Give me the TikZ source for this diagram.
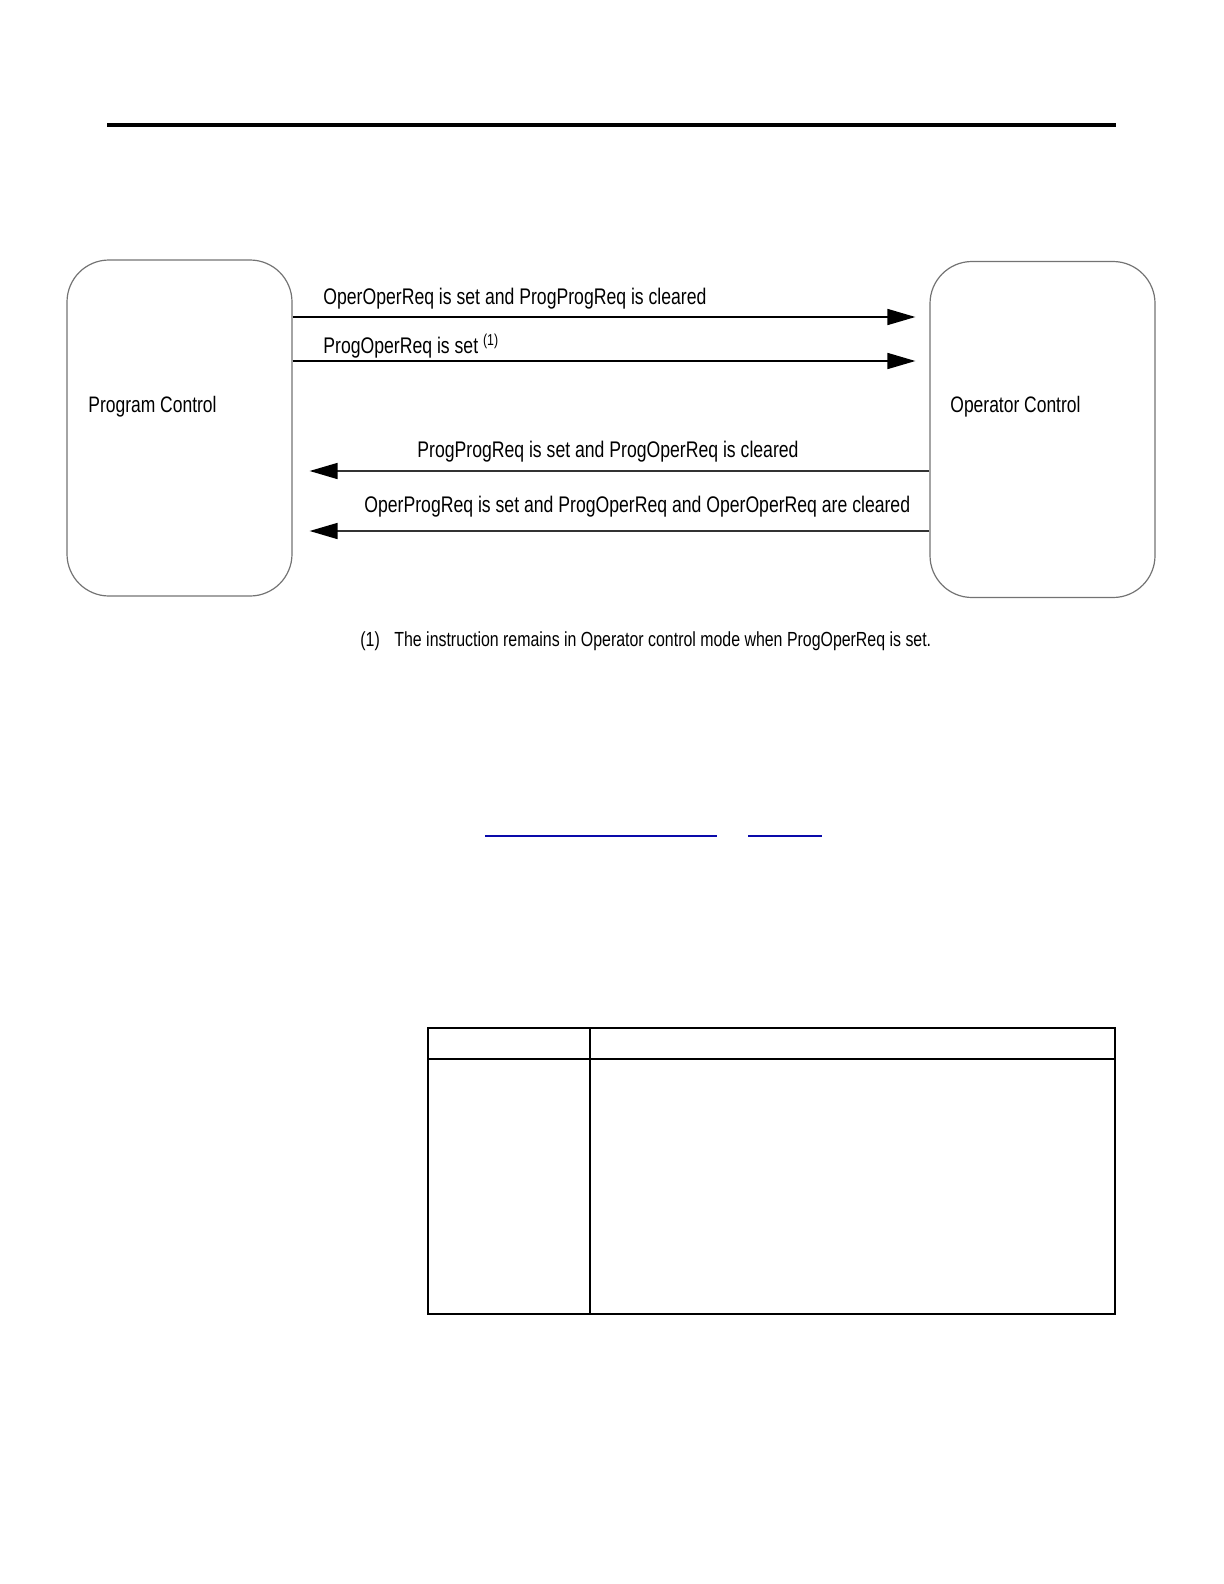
\documentclass[tikz,border=0pt]{standalone}
\usepackage{fontspec}
\setmainfont[FakeStretch=0.78]{Liberation Sans}
\usetikzlibrary{arrows.meta}
\definecolor{linkblue}{RGB}{10,10,170}
\begin{document}
\begin{tikzpicture}[x=0.5pt,y=-0.5pt,
  state/.style={draw=black!55, line width=0.6pt, rounded corners=21pt,
    minimum width=112.5pt, minimum height=168pt, inner sep=0pt},
  arr/.style={line width=0.8pt, -{Triangle[length=14pt,width=8pt,color=black]}},
  lbl/.style={font=\fontsize{11.3}{13}\selectfont, anchor=base west, inner sep=0pt},
  boxlbl/.style={font=\fontsize{11.2}{13}\selectfont, anchor=base west, inner sep=0pt},
  foot/.style={font=\fontsize{10.2}{12}\selectfont, anchor=base west, inner sep=0pt},
  tab/.style={line width=0.75pt, draw=black},
  link/.style={line width=1pt, draw=linkblue}]
\useasboundingbox (0,0) rectangle (1224,1584);
% top rule
\draw[line width=2pt] (107,125) -- (1116,125);
% states
\node[state] (L) at (179.5,428) {};
\node[state] (R) at (1042.5,429.5) {};
\node[boxlbl] (Lt) at (88,412) {Program Control};
\node[boxlbl] (Rt) at (950,412) {Operator Control};
% arrow rows
\coordinate (y1) at (0,317);
\coordinate (y2) at (0,361);
\coordinate (y3) at (0,471);
\coordinate (y4) at (0,531);
\draw[arr, shorten >=7pt] (L.east |- y1) -- (R.west |- y1);
\draw[arr, shorten >=7pt] (L.east |- y2) -- (R.west |- y2);
\draw[arr, draw=black!80, shorten >=8.5pt] (R.west |- y3) -- (L.east |- y3);
\draw[arr, draw=black!80, shorten >=8.5pt] (R.west |- y4) -- (L.east |- y4);
\node[lbl] (t1) at (323,304) {OperOperReq is set and ProgProgReq is cleared};
\node[lbl] (t2) at (323,353) {ProgOperReq is set \textsuperscript{(1)}};
\node[lbl] (t3) at (417,457) {ProgProgReq is set and ProgOperReq is cleared};
\node[lbl] (t4) at (364,512) {OperProgReq is set and ProgOperReq and OperOperReq are cleared};
% footnote
\node[foot] (f1) at (360,646) {(1)};
\node[foot] (f2) at (394,646) {The instruction remains in Operator control mode when ProgOperReq is set.};
% links
\draw[link] (485,836) -- (717,836);
\draw[link] (748,836) -- (822,836);
% table
\draw[tab] (428,1028) rectangle (1115,1314);
\draw[tab] (428,1059) -- (1115,1059);
\draw[tab] (590,1028) -- (590,1314);
\end{tikzpicture}
\end{document}
